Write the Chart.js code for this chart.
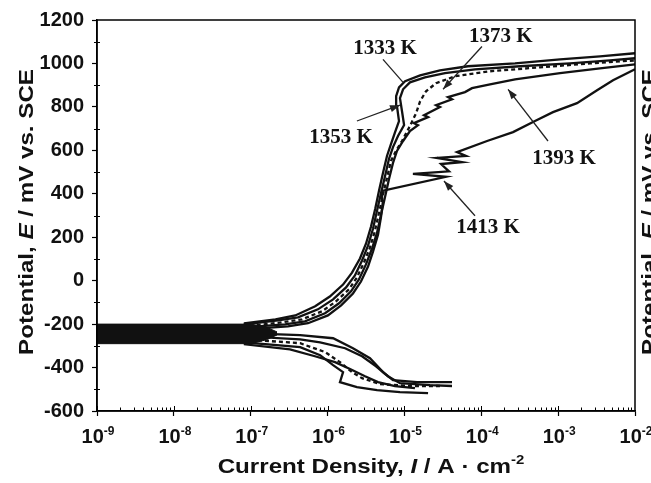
<!DOCTYPE html>
<html>
<head>
<meta charset="utf-8">
<title>Polarization curves</title>
<script src="https://cdn.jsdelivr.net/npm/chart.js@4.4.1/dist/chart.umd.min.js"></script>
<style>
  html, body { margin: 0; padding: 0; background: #fff; }
  #wrap { position: relative; width: 651px; height: 483px; }
</style>
</head>
<body>
<div id="wrap"><canvas id="myChart"></canvas></div>
<script>
  const temps = ['1333 K', '1353 K', '1373 K', '1393 K', '1413 K'];

  // current density (A/cm2) and potential (mV vs SCE)
  // each run: cathodic end -> near Ecorr -> anodic end
  const i1333 = [4.16e-5, 1.46e-5, 7.1e-6, 5.26e-6, 3.56e-6, 2.14e-6, 1.18e-6, 4.4e-7, 8.4e-8,
    8.4e-8, 2.1e-7, 3.8e-7, 6.9e-7, 1.07e-6, 1.59e-6, 2.08e-6, 2.64e-6, 3.16e-6, 3.67e-6, 4.17e-6,
    4.67e-6, 5.26e-6, 5.93e-6, 6.68e-6, 7.5e-6, 8.5e-6, 8.0e-6, 7.8e-6, 8.5e-6, 1.02e-5, 1.6e-5,
    2.9e-5, 6.7e-5, 2.75e-4, 1.06e-3, 3.5e-3, 1e-2];
  const e1333 = [-467, -467, -458, -421, -357, -311, -265, -251, -242,
    -196, -178, -160, -118, -73, -18, 37, 102, 170, 248, 331,
    414, 496, 574, 629, 680, 735, 803, 849, 890, 918, 945,
    968, 987, 1000, 1019, 1033, 1047];

  const i1353 = [4.16e-5, 2.15e-5, 8.75e-6, 6.1e-6, 4.27e-6, 2.81e-6, 1.69e-6, 8.0e-7, 4.4e-7, 8.4e-8,
    8.4e-8, 2.26e-7, 4.12e-7, 7.5e-7, 1.18e-6, 1.74e-6, 2.27e-6, 2.81e-6, 3.36e-6, 3.9e-6, 4.4e-6,
    4.96e-6, 5.6e-6, 6.3e-6, 7.1e-6, 8.25e-6, 9.9e-6, 9.3e-6, 8.75e-6, 9.6e-6, 1.18e-5, 1.85e-5,
    3.37e-5, 8.3e-5, 3.19e-4, 1.43e-3, 4.73e-3, 1e-2];
  const e1353 = [-485, -481, -472, -440, -394, -348, -311, -284, -270, -256,
    -201, -183, -169, -132, -86, -31, 24, 93, 161, 239, 322,
    404, 482, 561, 615, 666, 716, 780, 840, 881, 913, 936,
    955, 973, 987, 1000, 1014, 1024];

  const i1373 = [2.9e-5, 1.18e-5, 4.81e-6, 2.81e-6, 2.08e-6, 1.45e-6, 9.3e-7, 4.4e-7, 8.4e-8,
    8.4e-8, 2.55e-7, 4.65e-7, 8.47e-7, 1.29e-6, 1.9e-6, 2.41e-6, 2.98e-6, 3.56e-6, 4.14e-6, 4.67e-6,
    5.26e-6, 5.93e-6, 6.68e-6, 7.76e-6, 9.3e-6, 1.18e-5, 1.42e-5, 1.6e-5, 1.91e-5, 2.58e-5,
    4.55e-5, 1.3e-4, 5.8e-4, 2.6e-3, 1e-2];
  const e1373 = [-485, -485, -476, -449, -421, -375, -329, -288, -270,
    -210, -192, -178, -141, -95, -40, 15, 84, 152, 230, 312,
    395, 473, 551, 597, 643, 712, 771, 826, 872, 909,
    941, 964, 982, 1000, 1014];

  const i1393 = [2.03e-5, 8.75e-6, 4.4e-6, 2.41e-6, 1.45e-6, 1.59e-6, 1.18e-6, 8.0e-7, 4.4e-7, 8.4e-8,
    8.4e-8, 2.79e-7, 5.08e-7, 9.27e-7, 1.41e-6, 2.02e-6, 2.56e-6, 3.16e-6, 3.79e-6, 4.4e-6, 4.96e-6,
    5.6e-6, 6.3e-6, 7.1e-6, 8.0e-6, 9.6e-6, 1.18e-5, 1.5e-5, 1.33e-5, 2.03e-5, 1.8e-5, 2.9e-5,
    2.58e-5, 4.16e-5, 3.69e-5, 6.14e-5, 7.57e-5, 1.3e-4, 2.75e-4, 1.06e-3, 3.5e-3, 1e-2];
  const e1393 = [-518, -513, -504, -490, -467, -421, -389, -343, -306, -284,
    -215, -201, -187, -150, -104, -49, 6, 75, 148, 221, 303,
    386, 468, 542, 597, 643, 689, 716, 725, 753, 762, 799,
    808, 835, 845, 868, 886, 904, 927, 955, 977, 996];

  const i1413 = [1.37e-5, 7.53e-6, 4.53e-6, 3.07e-6, 1.96e-6, 1.25e-6, 6.85e-7, 3.24e-7, 8.4e-8,
    8.4e-8, 3.05e-7, 5.56e-7, 1.01e-6, 1.5e-6, 2.14e-6, 2.72e-6, 3.36e-6, 3.9e-6, 4.53e-6, 4.96e-6,
    5.26e-6, 5.11e-6, 3.48e-5, 1.29e-5, 3.8e-5, 2.99e-5, 5.61e-5, 2.65e-5, 6.33e-5, 4.83e-5,
    1.19e-4, 2.59e-4, 5.0e-4, 8.57e-4, 1.76e-3, 3.21e-3, 5.18e-3, 1e-2];
  const e1413 = [-495, -485, -467, -440, -407, -375, -348, -316, -293,
    -224, -210, -196, -160, -114, -59, -4, 65, 134, 212, 294,
    367, 413, 478, 492, 503, 537, 546, 565, 574, 592,
    643, 684, 735, 776, 817, 877, 923, 973];

  // noisy region around Ecorr, where the log current keeps dropping off scale
  const bandI = [1e-9, 1e-7, 1.6e-7, 2.2e-7];
  const bandTop = [-200, -200, -214, -236];
  const bandBottom = [-290, -290, -272, -250];

  const xDecades = [-9, -8, -7, -6, -5, -4, -3, -2];

  // temperature tags: text anchor, arrow tail, arrow tip (data units)
  const tagAt = [[5.6e-6, 1069], [1.5e-6, 661], [1.8e-4, 1124], [1.19e-3, 560], [1.22e-4, 244]];
  const tagFrom = [[5.26e-6, 1019], [2.41e-6, 735], [1.02e-4, 1078], [7.38e-4, 643], [8.28e-5, 299]];
  const tagTo = [[9.6e-6, 913], [8.75e-6, 808], [3.18e-5, 881], [2.23e-4, 881], [3.27e-5, 459]];
  const tagHead = [false, true, true, true, true];

  const series = [[i1333, e1333], [i1353, e1353], [i1373, e1373], [i1393, e1393], [i1413, e1413]];
  const dashes = [[], [], [4, 3], [], []];

  const SANS = "'Liberation Sans', Arial, Helvetica, sans-serif";
  const SERIF = "'Liberation Serif', 'Times New Roman', serif";
  const INK = '#111';

  const toPoints = (xs, ys) => xs.map((v, k) => ({ x: v, y: ys[k] }));

  const datasets = [
    { data: toPoints(bandI, bandTop), fill: '+1', backgroundColor: INK, borderColor: INK, borderWidth: 1 },
    { data: toPoints(bandI, bandBottom), fill: false, borderColor: INK, borderWidth: 1 },
    ...series.map(([xs, ys], k) => ({
      label: temps[k],
      data: toPoints(xs, ys),
      fill: false,
      borderColor: INK,
      borderWidth: 2.3,
      borderDash: dashes[k]
    }))
  ];
  datasets.forEach(d => { d.showLine = true; d.pointRadius = 0; d.tension = 0; });

  // text made of runs with different fonts, centred on cx
  function runsWidth(ctx, runs) {
    let w = 0;
    for (const r of runs) { ctx.font = r.font; w += ctx.measureText(r.text).width; }
    return w;
  }
  function drawRuns(ctx, runs, cx, base, stretch) {
    ctx.save();
    ctx.translate(cx, base);
    ctx.scale(stretch, 1);
    ctx.textAlign = 'left';
    ctx.textBaseline = 'alphabetic';
    let x = -runsWidth(ctx, runs) / 2;
    for (const r of runs) {
      ctx.font = r.font;
      ctx.fillText(r.text, x, -(r.rise || 0));
      x += ctx.measureText(r.text).width;
    }
    ctx.restore();
  }

  const B21 = `bold 21px ${SANS}`;
  const BI21 = `italic bold 21px ${SANS}`;
  const xTitle = [
    { text: 'Current Density, ', font: B21 },
    { text: 'I', font: BI21 },
    { text: ' / A \u00b7 cm', font: B21 },
    { text: '-2', font: `bold 13px ${SANS}`, rise: 9 }
  ];
  const yTitle = [
    { text: 'Potential, ', font: B21 },
    { text: 'E', font: BI21 },
    { text: ' / mV vs. SCE', font: B21 }
  ];

  const decorations = {
    id: 'decorations',
    afterDraw(chart) {
      const { ctx, chartArea: a, scales: { x, y } } = chart;
      ctx.save();
      ctx.strokeStyle = '#000';
      ctx.fillStyle = INK;

      // frame
      ctx.lineWidth = 1.5;
      ctx.strokeRect(a.left, a.top, a.right - a.left, a.bottom - a.top);

      // inner ticks
      ctx.lineWidth = 1;
      ctx.beginPath();
      for (let d = -9; d < -2; d++) {
        for (let k = 1; k <= 9; k++) {
          const px = Math.round(x.getPixelForValue(k * Math.pow(10, d))) + 0.5;
          ctx.moveTo(px, a.bottom);
          ctx.lineTo(px, a.bottom - (k === 1 ? 5 : 3.5));
        }
      }
      for (let v = -500; v < 1200; v += 200) {
        const py = Math.round(y.getPixelForValue(v)) + 0.5;
        ctx.moveTo(a.left - 3, py);
        ctx.lineTo(a.left + 3, py);
      }
      ctx.stroke();

      // decade labels
      for (const d of xDecades) {
        const px = x.getPixelForValue(Math.pow(10, d));
        drawRuns(ctx, [
          { text: '10', font: `bold 20px ${SANS}` },
          { text: String(d), font: `bold 12px ${SANS}`, rise: 8 }
        ], px + 1, 443, 1);
      }

      // axis titles
      drawRuns(ctx, xTitle, (a.left + a.right) / 2 + 5, 473, 1.15);
      for (const bx of [33, 656]) {
        ctx.save();
        ctx.translate(bx, 212);
        ctx.rotate(-Math.PI / 2);
        drawRuns(ctx, yTitle, 0, 0, 1.15);
        ctx.restore();
      }

      // temperature tags with arrows
      ctx.strokeStyle = '#222';
      ctx.fillStyle = '#222';
      ctx.lineWidth = 1.3;
      tagFrom.forEach((from, k) => {
        const x0 = x.getPixelForValue(from[0]), y0 = y.getPixelForValue(from[1]);
        const x1 = x.getPixelForValue(tagTo[k][0]), y1 = y.getPixelForValue(tagTo[k][1]);
        ctx.beginPath();
        ctx.moveTo(x0, y0);
        ctx.lineTo(x1, y1);
        ctx.stroke();
        if (tagHead[k]) {
          const ang = Math.atan2(y1 - y0, x1 - x0);
          ctx.beginPath();
          ctx.moveTo(x1, y1);
          ctx.lineTo(x1 - 10 * Math.cos(ang) + 3.5 * Math.sin(ang), y1 - 10 * Math.sin(ang) - 3.5 * Math.cos(ang));
          ctx.lineTo(x1 - 10 * Math.cos(ang) - 3.5 * Math.sin(ang), y1 - 10 * Math.sin(ang) + 3.5 * Math.cos(ang));
          ctx.closePath();
          ctx.fill();
        }
      });
      ctx.fillStyle = INK;
      ctx.font = `bold 21px ${SERIF}`;
      ctx.textAlign = 'center';
      ctx.textBaseline = 'middle';
      tagAt.forEach((p, k) => {
        ctx.fillText(temps[k], x.getPixelForValue(p[0]), y.getPixelForValue(p[1]));
      });
      ctx.restore();
    }
  };

  const config = {
    type: 'scatter',
    data: { datasets: datasets },
    options: {
      responsive: true,
      maintainAspectRatio: false,
      animation: false,
      layout: { padding: { top: 18, right: 16, left: 0, bottom: 0 } },
      plugins: { legend: { display: false }, tooltip: { enabled: false } },
      scales: {
        x: {
          type: 'logarithmic',
          min: 1e-9,
          max: 1e-2,
          afterBuildTicks: s => { s.ticks = xDecades.map(d => ({ value: Math.pow(10, d), major: true })); },
          afterFit: s => { s.height = 72; },
          ticks: { display: false },
          grid: { drawOnChartArea: false, drawTicks: true, tickLength: 5, tickColor: '#000', tickWidth: 1.2 },
          border: { display: true, color: '#000', width: 1.5 }
        },
        y: {
          type: 'linear',
          min: -600,
          max: 1200,
          afterFit: s => { s.width = 97; },
          ticks: {
            stepSize: 200,
            color: INK,
            padding: 8,
            callback: v => String(v),
            font: { family: SANS, size: 20, weight: 'bold' }
          },
          grid: { drawOnChartArea: false, drawTicks: true, tickLength: 5, tickColor: '#000', tickWidth: 1.2 },
          border: { display: true, color: '#000', width: 1.5 }
        }
      }
    },
    plugins: [decorations]
  };

  const myChart = new Chart(document.getElementById('myChart'), config);
</script>
</body>
</html>
